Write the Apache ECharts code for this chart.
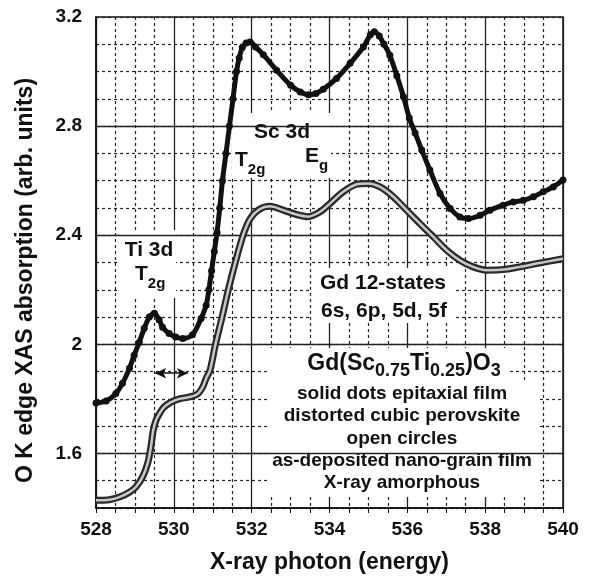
<!DOCTYPE html>
<html>
<head>
<meta charset="utf-8">
<script src="https://cdn.jsdelivr.net/npm/echarts@6.0.0/dist/echarts.min.js"></script>
<style>
  html, body { margin: 0; padding: 0; background: #fff; }
  #chart { width: 590px; height: 579px; }
</style>
</head>
<body>
<div id="chart"></div>
<script>
// epitaxial film (solid dots)
const solidE = [528.0, 528.26, 528.51, 528.68, 528.86, 528.98, 529.11, 529.24, 529.37, 529.5, 529.62, 529.71, 529.88, 530.05, 530.23, 530.48, 530.7, 530.83, 530.9, 530.97, 531.04, 531.11, 531.18, 531.25, 531.34, 531.43, 531.52, 531.61, 531.68, 531.76, 531.86, 531.96, 532.1, 532.3, 532.64, 533.0, 533.25, 533.46, 533.65, 533.84, 534.18, 534.53, 534.87, 535.05, 535.15, 535.28, 535.4, 535.55, 535.73, 535.9, 536.05, 536.2, 536.37, 536.58, 536.84, 537.1, 537.35, 537.57, 537.87, 538.12, 538.46, 538.72, 538.98, 539.24, 539.49, 539.75, 540.0];
const solidV = [1.785, 1.792, 1.82, 1.857, 1.912, 1.96, 2.007, 2.059, 2.1, 2.114, 2.09, 2.063, 2.04, 2.027, 2.021, 2.035, 2.095, 2.143, 2.2, 2.27, 2.34, 2.41, 2.5, 2.6, 2.7, 2.8, 2.9, 3.0, 3.05, 3.088, 3.105, 3.108, 3.09, 3.062, 3.005, 2.95, 2.925, 2.915, 2.92, 2.935, 2.975, 3.03, 3.09, 3.135, 3.146, 3.13, 3.1, 3.06, 2.985, 2.908, 2.83, 2.775, 2.712, 2.639, 2.553, 2.498, 2.467, 2.461, 2.473, 2.492, 2.51, 2.522, 2.528, 2.541, 2.559, 2.577, 2.602];

// as-deposited film (open circles)
const openE = [528.0, 528.34, 528.6, 528.86, 529.03, 529.2, 529.33, 529.41, 529.47, 529.54, 529.63, 529.75, 529.93, 530.14, 530.4, 530.61, 530.74, 530.83, 530.93, 531.07, 531.24, 531.4, 531.58, 531.78, 531.96, 532.2, 532.47, 532.81, 533.15, 533.45, 533.76, 534.01, 534.35, 534.7, 535.0, 535.3, 535.64, 535.98, 536.32, 536.67, 537.01, 537.35, 537.69, 538.04, 538.47, 538.89, 539.32, 539.66, 540.0];
const openV = [1.428, 1.43, 1.44, 1.458, 1.478, 1.515, 1.565, 1.623, 1.684, 1.721, 1.746, 1.77, 1.788, 1.8, 1.807, 1.818, 1.843, 1.875, 1.905, 2.0, 2.1, 2.2, 2.3, 2.4, 2.46, 2.495, 2.506, 2.492, 2.476, 2.468, 2.486, 2.516, 2.559, 2.587, 2.59, 2.577, 2.541, 2.492, 2.443, 2.394, 2.345, 2.308, 2.284, 2.272, 2.274, 2.284, 2.296, 2.305, 2.314];

const yLabels = ['1.6', '2', '2.4', '2.8', '3.2'];
const yMajor = [1.6, 2.0, 2.4, 2.8];
const arrowSpan = [[529.52, 1.894], [530.36, 1.894]];

const FONT = '"Liberation Sans", Arial, Helvetica, sans-serif';
const INK = '#111';

const solidPts = solidE.map((e, i) => [e, solidV[i]]);
const openPts = openE.map((e, i) => [e, openV[i]]);

const ctx = document.createElement('canvas').getContext('2d');
function textW(t, size) {
  ctx.font = 'bold ' + size + 'px ' + FONT;
  return ctx.measureText(t).width;
}

function txt(t, x, y, size, align) {
  return {
    type: 'text', x: x, y: y, z: 5,
    style: {
      text: t, font: 'bold ' + size + 'px ' + FONT, fill: INK,
      align: align || 'center', textAlign: align || 'center',
      verticalAlign: 'middle', textVerticalAlign: 'middle'
    }
  };
}

// pieces: [text, size, dy]; laid out from left x
function runLeft(pieces, x, y) {
  const out = [];
  pieces.forEach(p => {
    out.push(txt(p[0], x, y + p[2], p[1], 'left'));
    x += textW(p[0], p[1]);
  });
  return out;
}
function runCenter(pieces, cx, y) {
  const w = pieces.reduce((s, p) => s + textW(p[0], p[1]), 0);
  return runLeft(pieces, cx - w / 2, y);
}

function box(x, y, w, h) {
  return { type: 'rect', z: 4, shape: { x: x, y: y, width: w, height: h }, style: { fill: '#fff' } };
}

const graphics = [
  box(120, 230, 56, 68),
  box(232, 113, 99, 65),
  box(312, 268, 144, 55),
  box(267, 348, 241, 36),
  box(267, 382, 271, 115),
  txt('Ti 3d', 149, 250, 21),
  ...runLeft([['T', 21, 0], ['2g', 15, 10]], 135, 274),
  txt('Sc 3d', 282, 132, 21),
  ...runLeft([['T', 21, 0], ['2g', 15, 10]], 235, 160),
  ...runLeft([['E', 21, 0], ['g', 15, 10]], 305, 156),
  txt('Gd 12-states', 383, 283, 21),
  txt('6s, 6p, 5d, 5f', 384, 311, 21),
  ...runCenter([['Gd(Sc', 23, 0], ['0.75', 18, 7], ['Ti', 23, 0], ['0.25', 18, 7], [')O', 23, 0], ['3', 18, 7]], 404, 364),
  txt('solid dots epitaxial film', 402, 394, 19),
  txt('distorted cubic perovskite', 402, 416, 19),
  txt('open circles', 402, 439, 19),
  txt('as-deposited nano-grain film', 402, 461, 19),
  txt('X-ray amorphous', 402, 483, 19)
];

const chart = echarts.init(document.getElementById('chart'));
chart.setOption({
  animation: false,
  backgroundColor: '#fff',
  grid: {
    left: 96, right: 27, top: 17, bottom: 70,
    show: true, borderColor: '#111', borderWidth: 1.5, backgroundColor: '#fff'
  },
  xAxis: {
    type: 'value', min: 528, max: 540, interval: 2,
    axisLine: { show: true, lineStyle: { color: INK, width: 1.5 } },
    axisTick: { show: true, length: 5, lineStyle: { color: INK } },
    minorTick: { show: true, splitNumber: 4, length: 5, lineStyle: { color: INK } },
    axisLabel: { fontSize: 19, fontWeight: 'bold', color: INK, fontFamily: FONT, margin: 12 },
    splitLine: { show: true, lineStyle: { color: '#222', width: 1.3 } },
    minorSplitLine: { show: true, lineStyle: { color: '#222', width: 1.2, type: [3, 3] } },
    name: 'X-ray photon (energy)', nameLocation: 'middle', nameGap: 43,
    nameTextStyle: { fontSize: 23, fontWeight: 'bold', color: INK, fontFamily: FONT }
  },
  yAxis: {
    type: 'value', min: 1.4, max: 3.2, interval: 0.1,
    axisLine: { show: true, lineStyle: { color: INK, width: 1.5 } },
    axisTick: { show: false },
    axisLabel: {
      fontSize: 19, fontWeight: 'bold', color: INK, fontFamily: FONT, margin: 14,
      formatter: v => yLabels.find(l => Math.abs(parseFloat(l) - v) < 1e-6) || ''
    },
    splitLine: { show: true, lineStyle: { color: '#222', width: 1.2, type: [3, 3] } },
    name: 'O K edge XAS absorption (arb. units)', nameLocation: 'middle', nameGap: 59,
    nameTextStyle: { fontSize: 23, fontWeight: 'bold', color: INK, fontFamily: FONT, padding: [0, 36, 0, 0] }
  },
  graphic: { elements: graphics },
  series: [
    {
      name: 'major grid', type: 'line', data: [], z: 1, silent: true,
      markLine: {
        silent: true, symbol: 'none', label: { show: false },
        lineStyle: { color: '#222', width: 1.3, type: 'solid' },
        data: yMajor.map(v => ({ yAxis: v }))
      }
    },
    {
      name: 'open circles', type: 'line', data: openPts, smooth: 0.3, z: 10,
      showSymbol: false, lineStyle: { color: '#2a2a2a', width: 7 }
    },
    {
      name: 'open circles inner', type: 'line', data: openPts, smooth: 0.3, z: 11,
      showSymbol: false, silent: true, lineStyle: { color: '#c8c8c8', width: 2.5 }
    },
    {
      name: 'solid dots', type: 'line', data: solidPts, smooth: 0.3, z: 12,
      symbol: 'circle', symbolSize: 7, showAllSymbol: true,
      itemStyle: { color: INK }, lineStyle: { color: INK, width: 5 },
      markLine: {
        silent: true, symbol: ['arrow', 'arrow'], symbolSize: [8, 11], label: { show: false },
        lineStyle: { color: INK, width: 1.5, type: 'solid' },
        data: [[{ coord: arrowSpan[0] }, { coord: arrowSpan[1] }]]
      }
    }
  ]
});
</script>
</body>
</html>
